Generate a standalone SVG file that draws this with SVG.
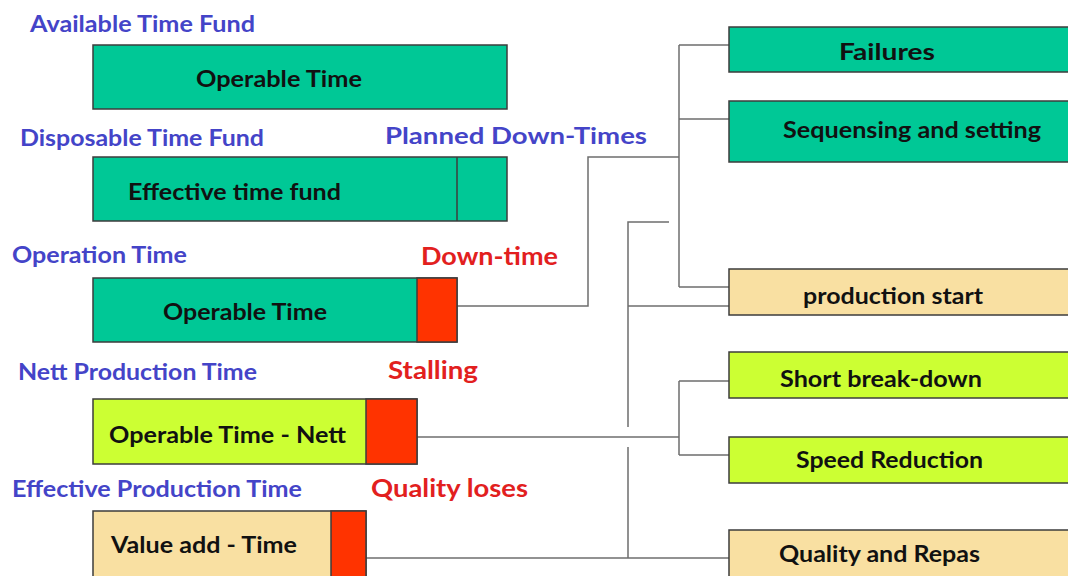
<svg xmlns="http://www.w3.org/2000/svg" width="1068" height="576" viewBox="0 0 1068 576">
  <style>
    .box { stroke: #3c3c3c; stroke-width: 1.5; }
    .green { fill: #00C896; }
    .lime { fill: #CCFF33; }
    .tan { fill: #F9E0A2; }
    .red { fill: #FF3300; }
    .lbl { font-family: Lato, "Open Sans", "Liberation Sans", sans-serif; font-weight: bold; }
    .txt { fill: #111111; font-size: 23px; }
    .blue { fill: #4444C8; font-size: 23px; }
    .warn { fill: #E2201E; font-size: 24px; }
    .conn { fill: none; stroke: #6e6e6e; stroke-width: 1.5; }
  </style>

  <rect width="1068" height="576" fill="#ffffff"/>

  <!-- section headings -->
  <g id="headings" class="lbl">
    <text class="blue" x="30" y="32" textLength="225" lengthAdjust="spacingAndGlyphs">Available Time Fund</text>
    <text class="blue" x="20" y="146" textLength="244" lengthAdjust="spacingAndGlyphs">Disposable Time Fund</text>
    <text class="blue" x="385" y="144" textLength="262" lengthAdjust="spacingAndGlyphs">Planned Down-Times</text>
    <text class="blue" x="12" y="263" textLength="175" lengthAdjust="spacingAndGlyphs">Operation Time</text>
    <text class="warn" x="421" y="265" textLength="137" lengthAdjust="spacingAndGlyphs">Down-time</text>
    <text class="blue" x="18" y="380" textLength="239" lengthAdjust="spacingAndGlyphs">Nett Production Time</text>
    <text class="warn" x="388" y="379" textLength="90" lengthAdjust="spacingAndGlyphs">Stalling</text>
    <text class="blue" x="12" y="497" textLength="290" lengthAdjust="spacingAndGlyphs">Effective Production Time</text>
    <text class="warn" x="371" y="497" textLength="157" lengthAdjust="spacingAndGlyphs">Quality loses</text>
  </g>

  <!-- connectors -->
  <g id="connectors" class="conn">
    <!-- down-time branch -->
    <path d="M457,306 H588 V157 H679"/>
    <path d="M679,45 V287"/>
    <path d="M679,45 H729 M679,119 H729 M679,287 H729"/>
    <!-- production start feed -->
    <path d="M669,222 H628 V427 M628,447 V558"/>
    <path d="M628,306 H729"/>
    <!-- stalling branch -->
    <path d="M417,437 H679"/>
    <path d="M679,381 V455 M679,381 H729 M679,455 H729"/>
    <!-- quality branch -->
    <path d="M366,558 H729"/>
  </g>

  <!-- left time bars -->
  <g id="available-time">
    <rect class="box green" x="93" y="45" width="414" height="64"/>
    <text class="lbl txt" x="196" y="87" textLength="166" lengthAdjust="spacingAndGlyphs">Operable Time</text>
  </g>

  <g id="disposable-time">
    <rect class="box green" x="93" y="157" width="414" height="64"/>
    <line class="box" x1="457" y1="157" x2="457" y2="221"/>
    <text class="lbl txt" x="128" y="200" textLength="213" lengthAdjust="spacingAndGlyphs">Effective time fund</text>
  </g>

  <g id="operation-time">
    <rect class="box green" x="93" y="278" width="364" height="64"/>
    <rect class="box red" x="417" y="278" width="40" height="64"/>
    <text class="lbl txt" x="163" y="320" textLength="164" lengthAdjust="spacingAndGlyphs">Operable Time</text>
  </g>

  <g id="nett-production-time">
    <rect class="box lime" x="93" y="399" width="324" height="65"/>
    <rect class="box red" x="366" y="399" width="51" height="65"/>
    <text class="lbl txt" x="109" y="443" textLength="237" lengthAdjust="spacingAndGlyphs">Operable Time - Nett</text>
  </g>

  <g id="effective-production-time">
    <rect class="box tan" x="93" y="511" width="273" height="70"/>
    <rect class="box red" x="331" y="511" width="35" height="70"/>
    <text class="lbl txt" x="111" y="553" textLength="186" lengthAdjust="spacingAndGlyphs">Value add - Time</text>
  </g>

  <!-- loss categories -->
  <g id="failures">
    <rect class="box green" x="729" y="27" width="350" height="45"/>
    <text class="lbl txt" x="839" y="60" textLength="96" lengthAdjust="spacingAndGlyphs">Failures</text>
  </g>

  <g id="sequensing">
    <rect class="box green" x="729" y="101" width="350" height="61"/>
    <text class="lbl txt" x="783" y="138" textLength="258" lengthAdjust="spacingAndGlyphs">Sequensing and setting</text>
  </g>

  <g id="production-start">
    <rect class="box tan" x="729" y="269" width="350" height="46"/>
    <text class="lbl txt" x="803" y="304" textLength="180" lengthAdjust="spacingAndGlyphs">production start</text>
  </g>

  <g id="short-break-down">
    <rect class="box lime" x="729" y="352" width="350" height="46"/>
    <text class="lbl txt" x="780" y="387" textLength="202" lengthAdjust="spacingAndGlyphs">Short break-down</text>
  </g>

  <g id="speed-reduction">
    <rect class="box lime" x="729" y="437" width="350" height="46"/>
    <text class="lbl txt" x="796" y="468" textLength="187" lengthAdjust="spacingAndGlyphs">Speed Reduction</text>
  </g>

  <g id="quality-and-repas">
    <rect class="box tan" x="729" y="530" width="350" height="55"/>
    <text class="lbl txt" x="779" y="562" textLength="201" lengthAdjust="spacingAndGlyphs">Quality and Repas</text>
  </g>
</svg>
